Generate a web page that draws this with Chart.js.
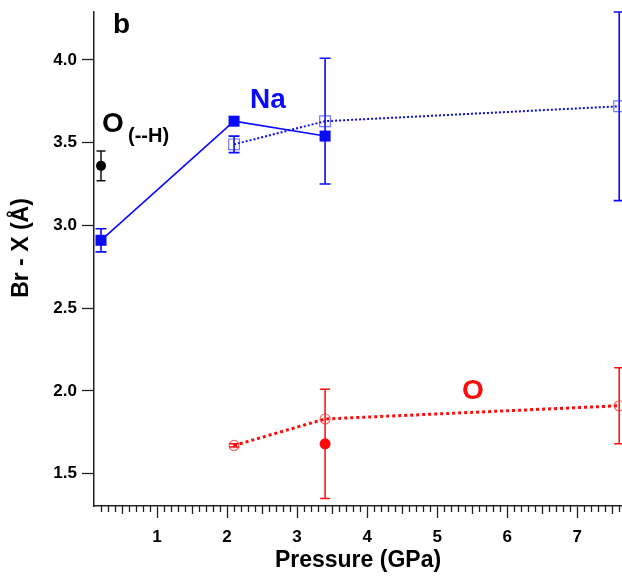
<!DOCTYPE html>
<html>
<head>
<meta charset="utf-8">
<script src="https://cdn.jsdelivr.net/npm/chart.js@4/dist/chart.umd.min.js"></script>
<style>
html,body{margin:0;padding:0;background:#fff;}
#wrap{width:622px;height:576px;position:relative;}
</style>
</head>
<body>
<div id="wrap"><canvas id="c" width="622" height="576"></canvas></div>
<script>
// ---- data ----
const naFilledP   = [0.2, 2.1, 3.4];
const naFilledR   = [2.91, 3.63, 3.54];
const naFilledErr = [0.07, 0, 0];

const naOpenP   = [2.1, 3.4, 7.6];
const naOpenR   = [3.49, 3.63, 3.72];
const naOpenErr = [0.05, 0.38, 0.57];

const oOpenP   = [2.1, 3.4, 7.6];
const oOpenR   = [1.67, 1.83, 1.91];
const oOpenErr = [0.01, 0, 0.23];

const oFilledP   = [3.4];
const oFilledR   = [1.68];
const oFilledErr = [0.33];

const ohP   = [0.2];
const ohR   = [3.36];
const ohErr = [0.09];

const xTicks = [1, 2, 3, 4, 5, 6, 7];
const yTicks = [1.5, 2.0, 2.5, 3.0, 3.5, 4.0];
const xRange = [0.1, 7.64];
const yRange = [1.304, 4.29];

const FONT = "'Liberation Sans', Arial, Helvetica, sans-serif";
const BLUE = '#0a0aff';
const RED = '#ff0a0a';

function pts(xs, ys) { return xs.map((x, i) => ({x: x, y: ys[i]})); }

const errorSets = [
  {xs: naFilledP, ys: naFilledR, err: naFilledErr, color: BLUE, cap: 5.5, w: 1.6},
  {xs: naOpenP, ys: naOpenR, err: naOpenErr, color: BLUE, cap: 5.5, w: 1.6},
  {xs: oOpenP, ys: oOpenR, err: oOpenErr, color: RED, cap: 5, w: 1.5},
  {xs: oFilledP, ys: oFilledR, err: oFilledErr, color: RED, cap: 5, w: 1.5},
  {xs: ohP, ys: ohR, err: ohErr, color: '#111', cap: 4.5, w: 1.5}
];

const errorBars = {
  id: 'errorBars',
  beforeDatasetsDraw(chart) {
    const ctx = chart.ctx, xs = chart.scales.x, ys = chart.scales.y;
    ctx.save();
    errorSets.forEach(s => {
      ctx.strokeStyle = s.color;
      ctx.lineWidth = s.w;
      s.xs.forEach((xv, i) => {
        const e = s.err[i];
        if (!e) return;
        const px = xs.getPixelForValue(xv);
        const top = ys.getPixelForValue(s.ys[i] + e);
        const bot = ys.getPixelForValue(s.ys[i] - e);
        ctx.beginPath();
        ctx.moveTo(px, top); ctx.lineTo(px, bot);
        ctx.moveTo(px - s.cap, top); ctx.lineTo(px + s.cap, top);
        ctx.moveTo(px - s.cap, bot); ctx.lineTo(px + s.cap, bot);
        ctx.stroke();
      });
    });
    ctx.restore();
  }
};

const minorTicks = {
  id: 'minorTicks',
  afterDraw(chart) {
    const ctx = chart.ctx, xs = chart.scales.x;
    const y0 = chart.chartArea.bottom;
    ctx.save();
    ctx.strokeStyle = '#222';
    ctx.lineWidth = 1.3;
    ctx.beginPath();
    for (let i = 2; i <= 76; i++) {
      if (i % 10 === 0) continue;
      const len = (i % 5 === 0) ? 8 : 6;
      const px = Math.round(xs.getPixelForValue(i / 10)) + 0.5;
      ctx.moveTo(px, y0);
      ctx.lineTo(px, y0 + len);
    }
    ctx.stroke();
    ctx.restore();
  }
};

const textLabels = {
  id: 'textLabels',
  afterDraw(chart) {
    const ctx = chart.ctx;
    ctx.save();
    ctx.textBaseline = 'alphabetic';
    ctx.textAlign = 'left';
    ctx.fillStyle = '#000';
    ctx.font = 'bold 28px ' + FONT;
    ctx.fillText('b', 113, 33);
    ctx.fillText('O', 102, 132);
    ctx.font = 'bold 20px ' + FONT;
    ctx.fillText('(--H)', 128, 142);
    ctx.fillStyle = BLUE;
    ctx.font = 'bold 28px ' + FONT;
    ctx.fillText('Na', 250, 108);
    ctx.fillStyle = RED;
    ctx.fillText('O', 462, 399);
    // y-axis title
    ctx.fillStyle = '#000';
    ctx.font = 'bold 23px ' + FONT;
    ctx.translate(22, 248);
    ctx.rotate(-Math.PI / 2);
    ctx.textAlign = 'center';
    ctx.textBaseline = 'middle';
    ctx.fillText('Br - X (Å)', 0, 0);
    ctx.restore();
  }
};

new Chart(document.getElementById('c'), {
  type: 'scatter',
  data: {
    datasets: [
      {
        label: 'Na open',
        data: pts(naOpenP, naOpenR),
        showLine: true,
        borderColor: BLUE,
        borderWidth: 2,
        borderDash: [2, 2],
        pointStyle: 'rect',
        pointRadius: 7.6,
        pointBorderWidth: 1.2,
        pointBorderColor: 'rgba(40,40,255,0.65)',
        pointBackgroundColor: 'rgba(255,255,255,0)'
      },
      {
        label: 'Na filled',
        data: pts(naFilledP, naFilledR),
        showLine: true,
        borderColor: BLUE,
        borderWidth: 1.6,
        pointStyle: 'rect',
        pointRadius: 7.8,
        pointBorderWidth: 0,
        pointBackgroundColor: BLUE
      },
      {
        label: 'O open',
        data: pts(oOpenP, oOpenR),
        showLine: true,
        borderColor: RED,
        borderWidth: 3,
        borderDash: [3, 3],
        pointStyle: 'circle',
        pointRadius: 5,
        pointBorderWidth: 1.2,
        pointBorderColor: 'rgba(255,40,40,0.7)',
        pointBackgroundColor: 'rgba(255,255,255,0)'
      },
      {
        label: 'O filled',
        data: pts(oFilledP, oFilledR),
        showLine: false,
        pointStyle: 'circle',
        pointRadius: 5.5,
        pointBorderWidth: 0,
        pointBackgroundColor: RED
      },
      {
        label: 'O(--H)',
        data: pts(ohP, ohR),
        showLine: false,
        pointStyle: 'circle',
        pointRadius: 5,
        pointBorderWidth: 0,
        pointBackgroundColor: '#000'
      }
    ]
  },
  options: {
    responsive: false,
    animation: false,
    devicePixelRatio: 1,
    layout: {autoPadding: false, padding: {top: 12, right: 0, left: 0, bottom: 0}},
    plugins: {legend: {display: false}, tooltip: {enabled: false}},
    scales: {
      x: {
        type: 'linear',
        bounds: 'data',
        min: xRange[0],
        max: xRange[1],
        afterBuildTicks: s => { s.min = xRange[0]; s.max = xRange[1]; s.ticks = xTicks.map(v => ({value: v})); },
        afterFit: s => { s.height = 70; s.paddingLeft = 0; s.paddingRight = 0; },
        grid: {drawOnChartArea: false, drawTicks: true, tickLength: 12, tickColor: '#222', tickWidth: 1.3},
        border: {display: true, color: '#222', width: 1.5},
        ticks: {
          color: '#000',
          font: {family: FONT, size: 17, weight: 'bold'},
          padding: 9,
          maxRotation: 0,
          autoSkip: false,
          callback: v => String(v)
        },
        title: {
          display: true,
          text: 'Pressure (GPa)',
          color: '#000',
          font: {family: FONT, size: 23, weight: 'bold'},
          padding: {top: 0, bottom: 2}
        }
      },
      y: {
        type: 'linear',
        bounds: 'data',
        min: yRange[0],
        max: yRange[1],
        afterBuildTicks: s => { s.min = yRange[0]; s.max = yRange[1]; s.ticks = yTicks.map(v => ({value: v})); },
        afterFit: s => { s.width = 94; s.paddingTop = 0; s.paddingBottom = 0; },
        grid: {drawOnChartArea: false, drawTicks: true, tickLength: 12, tickColor: '#222', tickWidth: 1.3},
        border: {display: true, color: '#222', width: 1.5},
        ticks: {
          color: '#000',
          font: {family: FONT, size: 17, weight: 'bold'},
          padding: 5,
          autoSkip: false,
          callback: v => Number(v).toFixed(1)
        }
      }
    }
  },
  plugins: [errorBars, minorTicks, textLabels]
});
</script>
</body>
</html>
